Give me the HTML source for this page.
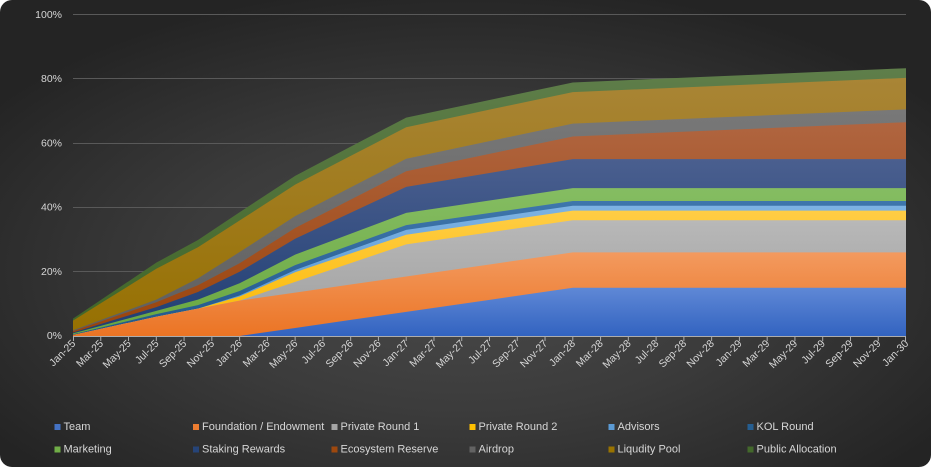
<!DOCTYPE html>
<html>
<head>
<meta charset="utf-8">
<style>
html,body{margin:0;padding:0;background:#ffffff;}
svg{display:block;}
text{font-family:"Liberation Sans",Arial,sans-serif;fill:#d6d6d6;}
</style>
</head>
<body>
<svg width="931" height="467" viewBox="0 0 931 467" xmlns="http://www.w3.org/2000/svg">
<defs>
  <radialGradient id="bg" cx="0.5" cy="0.58" r="0.62">
    <stop offset="0" stop-color="#4b4b4b"/>
    <stop offset="0.5" stop-color="#3b3b3b"/>
    <stop offset="1" stop-color="#242424"/>
  </radialGradient>
  <linearGradient id="gTeam" x1="0" y1="1" x2="0" y2="0"><stop offset="0" stop-color="#5f88d6"/><stop offset="1" stop-color="#3263c0"/></linearGradient>
  <linearGradient id="gFound" x1="0" y1="1" x2="0" y2="0"><stop offset="0" stop-color="#f39a5f"/><stop offset="1" stop-color="#eb7424"/></linearGradient>
  <linearGradient id="gPR1" x1="0" y1="1" x2="0" y2="0"><stop offset="0" stop-color="#b8b8b8"/><stop offset="1" stop-color="#9e9e9e"/></linearGradient>
  <linearGradient id="gPR2" x1="0" y1="1" x2="0" y2="0"><stop offset="0" stop-color="#ffcd45"/><stop offset="1" stop-color="#fbb800"/></linearGradient>
  <linearGradient id="gAdv" x1="0" y1="1" x2="0" y2="0"><stop offset="0" stop-color="#7db2e2"/><stop offset="1" stop-color="#5094d2"/></linearGradient>
  <linearGradient id="gKOL" x1="0" y1="1" x2="0" y2="0"><stop offset="0" stop-color="#3e76ac"/><stop offset="1" stop-color="#21578a"/></linearGradient>
  <linearGradient id="gMkt" x1="0" y1="1" x2="0" y2="0"><stop offset="0" stop-color="#85bd62"/><stop offset="1" stop-color="#68a63f"/></linearGradient>
  <linearGradient id="gStk" x1="0" y1="1" x2="0" y2="0"><stop offset="0" stop-color="#4a5f8f"/><stop offset="1" stop-color="#1f3d72"/></linearGradient>
  <linearGradient id="gEco" x1="0" y1="1" x2="0" y2="0"><stop offset="0" stop-color="#b06540"/><stop offset="1" stop-color="#9a430a"/></linearGradient>
  <linearGradient id="gAir" x1="0" y1="1" x2="0" y2="0"><stop offset="0" stop-color="#787878"/><stop offset="1" stop-color="#5e5e5e"/></linearGradient>
  <linearGradient id="gLP" x1="0" y1="1" x2="0" y2="0"><stop offset="0" stop-color="#a98536"/><stop offset="1" stop-color="#967000"/></linearGradient>
  <linearGradient id="gPub" x1="0" y1="1" x2="0" y2="0"><stop offset="0" stop-color="#5f7e4a"/><stop offset="1" stop-color="#3f6527"/></linearGradient>
</defs>

<rect x="0" y="0" width="931" height="467" rx="12" ry="12" fill="url(#bg)"/>

<!-- gridlines -->
<g stroke="#595959" stroke-width="1">
  <line x1="73" y1="14.5" x2="906" y2="14.5"/>
  <line x1="73" y1="78.5" x2="906" y2="78.5"/>
  <line x1="73" y1="143.5" x2="906" y2="143.5"/>
  <line x1="73" y1="207.5" x2="906" y2="207.5"/>
  <line x1="73" y1="271.5" x2="906" y2="271.5"/>
</g>

<!-- stacked areas: x in months, y in percent -->
<g transform="translate(73,336) scale(13.88333,-3.215)">
  <polygon fill="url(#gPub)" points="0,0 0,5.4 2,11.2 4,17.01 6,22.81 9,29.87 12,38.51 16,49.82 20,58.89 24,67.94 30,73.4 36,78.86 60,83.3 60,0"/>
  <polygon fill="url(#gLP)" points="0,0 0,4.8 2,10.17 4,15.54 6,20.91 9,27.62 12,35.91 16,47.09 20,56.02 24,64.94 30,70.4 36,75.86 60,80.3 60,0"/>
  <polygon fill="url(#gAir)" points="0,0 0,1.8 2,4.97 4,8.14 6,11.31 9,17.92 12,26.11 16,37.29 20,46.22 24,55.14 30,60.6 36,66.06 60,70.5 60,0"/>
  <polygon fill="url(#gEco)" points="0,0 0,1.5 2,4.5 4,7.51 6,10.51 9,15.77 12,22.61 16,33.59 20,42.42 24,51.24 30,56.65 36,62.06 60,66.5 60,0"/>
  <polygon fill="url(#gStk)" points="0,0 0,1.1 2,3.73 4,6.37 6,9.0 9,13.7 12,19.99 16,30.23 20,38.32 24,46.4 30,50.7 36,55 60,55 60,0"/>
  <polygon fill="url(#gMkt)" points="0,0 0,0.8 2,3.13 4,5.47 6,7.8 9,11.3 12,16.39 16,25.33 20,31.82 24,38.3 30,42.15 36,46 60,46 60,0"/>
  <polygon fill="url(#gKOL)" points="0,0 0,0.5 2,2.6 4,4.7 6,6.8 9,9.6 12,13.99 16,22.03 20,28.27 24,34.5 30,38.25 36,42 60,42 60,0"/>
  <polygon fill="url(#gAdv)" points="0,0 0,0.3 2,2.2 4,4.1 6,6 9,8.5 12,12.59 16,20.53 20,26.77 24,33 30,36.75 36,40.5 60,40.5 60,0"/>
  <polygon fill="url(#gPR2)" points="0,0 0,0.3 2,2.2 4,4.1 6,6 9,8.5 12,12.29 16,19.83 20,25.67 24,31.5 30,35.25 36,39 60,39 60,0"/>
  <polygon fill="url(#gPR1)" points="0,0 0,0.3 2,2.2 4,4.1 6,6 9,8.5 12,11 16,16.83 20,22.67 24,28.5 30,32.25 36,36 60,36 60,0"/>
  <polygon fill="url(#gFound)" points="0,0 0,0.3 2,2.2 4,4.1 6,6 9,8.5 12,11 16,13.5 20,16 24,18.5 30,22.25 36,26 60,26 60,0"/>
  <polygon fill="url(#gTeam)" points="12,0 16,2.5 20,5 24,7.5 30,11.25 36,15 60,15 60,0"/>
</g>

<!-- x axis line and ticks -->
<g stroke="#adadad" stroke-width="1">
  <line x1="73" y1="336.5" x2="906" y2="336.5"/>
  <path d="M73.5 336v5M100.77 336v5M128.53 336v5M156.3 336v5M184.07 336v5M211.83 336v5M239.6 336v5M267.37 336v5M295.13 336v5M322.9 336v5M350.67 336v5M378.43 336v5M406.2 336v5M433.97 336v5M461.73 336v5M489.5 336v5M517.27 336v5M545.03 336v5M572.8 336v5M600.57 336v5M628.33 336v5M656.1 336v5M683.87 336v5M711.63 336v5M739.4 336v5M767.17 336v5M794.93 336v5M822.7 336v5M850.47 336v5M878.23 336v5M905.5 336v5"/>
</g>

<!-- y labels -->
<g font-size="10.5" text-anchor="end" dominant-baseline="central">
  <text x="62" y="15">100%</text>
  <text x="62" y="79">80%</text>
  <text x="62" y="143.5">60%</text>
  <text x="62" y="207.5">40%</text>
  <text x="62" y="272">20%</text>
  <text x="62" y="336">0%</text>
</g>

<!-- x labels -->
<g font-size="10.5" text-anchor="end" dominant-baseline="central">
  <text transform="translate(74,342) rotate(-45)">Jan-25</text>
  <text transform="translate(101.77,342) rotate(-45)">Mar-25</text>
  <text transform="translate(129.53,342) rotate(-45)">May-25</text>
  <text transform="translate(157.3,342) rotate(-45)">Jul-25</text>
  <text transform="translate(185.07,342) rotate(-45)">Sep-25</text>
  <text transform="translate(212.83,342) rotate(-45)">Nov-25</text>
  <text transform="translate(240.6,342) rotate(-45)">Jan-26</text>
  <text transform="translate(268.37,342) rotate(-45)">Mar-26</text>
  <text transform="translate(296.13,342) rotate(-45)">May-26</text>
  <text transform="translate(323.9,342) rotate(-45)">Jul-26</text>
  <text transform="translate(351.67,342) rotate(-45)">Sep-26</text>
  <text transform="translate(379.43,342) rotate(-45)">Nov-26</text>
  <text transform="translate(407.2,342) rotate(-45)">Jan-27</text>
  <text transform="translate(434.97,342) rotate(-45)">Mar-27</text>
  <text transform="translate(462.73,342) rotate(-45)">May-27</text>
  <text transform="translate(490.5,342) rotate(-45)">Jul-27</text>
  <text transform="translate(518.27,342) rotate(-45)">Sep-27</text>
  <text transform="translate(546.03,342) rotate(-45)">Nov-27</text>
  <text transform="translate(573.8,342) rotate(-45)">Jan-28</text>
  <text transform="translate(601.57,342) rotate(-45)">Mar-28</text>
  <text transform="translate(629.33,342) rotate(-45)">May-28</text>
  <text transform="translate(657.1,342) rotate(-45)">Jul-28</text>
  <text transform="translate(684.87,342) rotate(-45)">Sep-28</text>
  <text transform="translate(712.63,342) rotate(-45)">Nov-28</text>
  <text transform="translate(740.4,342) rotate(-45)">Jan-29</text>
  <text transform="translate(768.17,342) rotate(-45)">Mar-29</text>
  <text transform="translate(795.93,342) rotate(-45)">May-29</text>
  <text transform="translate(823.7,342) rotate(-45)">Jul-29</text>
  <text transform="translate(851.47,342) rotate(-45)">Sep-29</text>
  <text transform="translate(879.23,342) rotate(-45)">Nov-29</text>
  <text transform="translate(907,342) rotate(-45)">Jan-30</text>
</g>

<!-- legend -->
<g>
  <rect x="54.5" y="424" width="6" height="6" fill="#4472C4"/>
  <rect x="193" y="424" width="6" height="6" fill="#ED7D31"/>
  <rect x="331.5" y="424" width="6" height="6" fill="#A5A5A5"/>
  <rect x="469.5" y="424" width="6" height="6" fill="#FFC000"/>
  <rect x="608.5" y="424" width="6" height="6" fill="#5B9BD5"/>
  <rect x="747.5" y="424" width="6" height="6" fill="#255E91"/>
  <rect x="54.5" y="446.5" width="6" height="6" fill="#70AD47"/>
  <rect x="193" y="446.5" width="6" height="6" fill="#264478"/>
  <rect x="331.5" y="446.5" width="6" height="6" fill="#9E480E"/>
  <rect x="469.5" y="446.5" width="6" height="6" fill="#636363"/>
  <rect x="608.5" y="446.5" width="6" height="6" fill="#997300"/>
  <rect x="747.5" y="446.5" width="6" height="6" fill="#43682B"/>
</g>
<g font-size="11" dominant-baseline="central">
  <text x="63.5" y="427">Team</text>
  <text x="202" y="427">Foundation / Endowment</text>
  <text x="340.5" y="427">Private Round 1</text>
  <text x="478.5" y="427">Private Round 2</text>
  <text x="617.5" y="427">Advisors</text>
  <text x="756.5" y="427">KOL Round</text>
  <text x="63.5" y="449.5">Marketing</text>
  <text x="202" y="449.5">Staking Rewards</text>
  <text x="340.5" y="449.5">Ecosystem Reserve</text>
  <text x="478.5" y="449.5">Airdrop</text>
  <text x="617.5" y="449.5">Liqudity Pool</text>
  <text x="756.5" y="449.5">Public Allocation</text>
</g>
</svg>
</body>
</html>
